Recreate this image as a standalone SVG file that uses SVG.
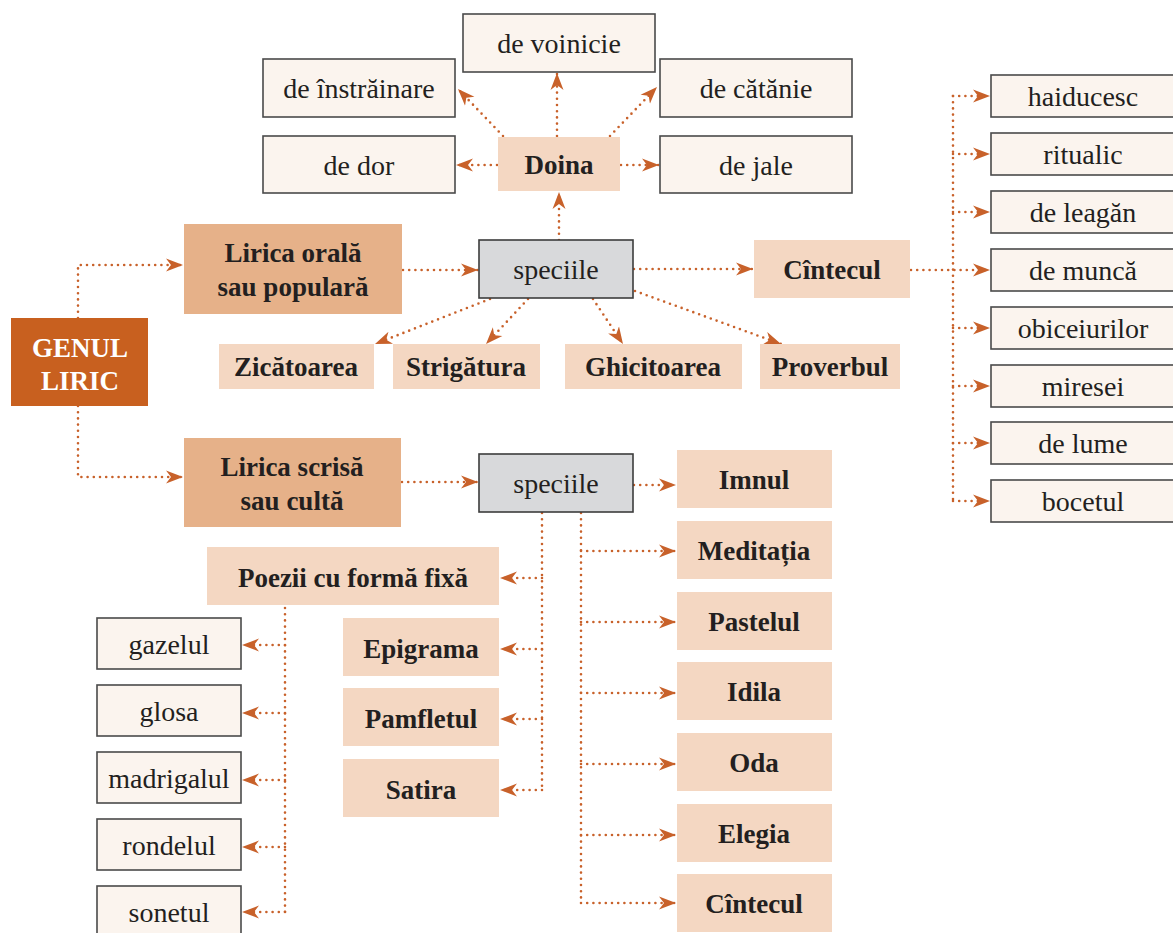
<svg xmlns="http://www.w3.org/2000/svg" width="1173" height="933" viewBox="0 0 1173 933">
<style>
text{font-family:"Liberation Serif","Times New Roman","DejaVu Serif",serif;fill:#231f20;text-anchor:middle}
.r{font-size:28px}
.b{font-size:27px;font-weight:bold}
.w{fill:#fbf4ee;stroke:#4a4a4a;stroke-width:1.6}
.g{fill:#d8d9db;stroke:#3c3c3c;stroke-width:1.6}
.p{fill:#f4d7c2}
.m{fill:#e6b189}
.k{fill:#c8601f}
.c path{fill:none;stroke:#c8612a;stroke-width:2.6;stroke-linecap:round;stroke-dasharray:0 6.2}
.c path.a{marker-end:url(#ah)}
</style>
<defs>
<marker id="ah" markerUnits="userSpaceOnUse" markerWidth="18" markerHeight="14" refX="17" refY="7" orient="auto">
<path d="M0,0.5 L17,7 L0,13.5 L5,7 Z" fill="#c8612a"/>
</marker>
</defs>
<rect width="1173" height="933" fill="#fff"/>
<g class="c" id="connectors">
<path class="a" d="M78,318 V265 H183"/>
<path class="a" d="M78,406 V477 H183"/>
<path class="a" d="M403,270 H478"/>
<path class="a" d="M402,482 H478"/>
<path class="a" d="M559,240 V192"/>
<path class="a" d="M497,165 H456"/>
<path class="a" d="M621,165 H659"/>
<path class="a" d="M557,136 V73"/>
<path class="a" d="M503,136 L458,89"/>
<path class="a" d="M610,136 L657,87"/>
<path class="a" d="M634,269 H753"/>
<path class="a" d="M490,299 L375,344"/>
<path class="a" d="M528,299 L486,344"/>
<path class="a" d="M593,299 L623,344"/>
<path class="a" d="M635,291 L781,344"/>
<path class="a" d="M911,270 H990"/>
<path d="M953,96 V501"/>
<path class="a" d="M953,96 H990"/>
<path class="a" d="M953,154 H990"/>
<path class="a" d="M953,212 H990"/>
<path class="a" d="M953,328 H990"/>
<path class="a" d="M953,386 H990"/>
<path class="a" d="M953,443 H990"/>
<path class="a" d="M953,501 H990"/>
<path class="a" d="M634,485 H676"/>
<path d="M581,513 V903"/>
<path class="a" d="M581,551 H676"/>
<path class="a" d="M581,622 H676"/>
<path class="a" d="M581,693 H676"/>
<path class="a" d="M581,764 H676"/>
<path class="a" d="M581,835 H676"/>
<path class="a" d="M581,903 H676"/>
<path d="M542,513 V790"/>
<path class="a" d="M542,578 H500"/>
<path class="a" d="M542,649 H500"/>
<path class="a" d="M542,719 H500"/>
<path class="a" d="M542,790 H500"/>
<path d="M285,608 V912"/>
<path class="a" d="M285,645 H242"/>
<path class="a" d="M285,713 H242"/>
<path class="a" d="M285,780 H242"/>
<path class="a" d="M285,847 H242"/>
<path class="a" d="M285,912 H242"/>
</g>
<g id="genul"><rect class="k" x="11" y="318" width="137" height="88"/><text class="b" x="80" y="357" style="fill:#fff">GENUL</text><text class="b" x="80" y="390" style="fill:#fff">LIRIC</text></g>
<g id="lirica-orala"><rect class="m" x="184" y="224" width="218" height="90"/><text class="b" x="293" y="262">Lirica orală</text><text class="b" x="293" y="296">sau populară</text></g>
<g id="lirica-scrisa"><rect class="m" x="184" y="438" width="217" height="89"/><text class="b" x="292" y="476">Lirica scrisă</text><text class="b" x="292" y="510">sau cultă</text></g>
<g id="speciile1"><rect class="g" x="479" y="240" width="154" height="58"/><text class="r" x="556" y="279">speciile</text></g>
<g id="speciile2"><rect class="g" x="479" y="454" width="154" height="58"/><text class="r" x="556" y="493">speciile</text></g>
<g id="doina"><rect class="p" x="498" y="137" width="122" height="54"/><text class="b" x="559" y="174">Doina</text></g>
<g id="de-voinicie"><rect class="w" x="463" y="14" width="192" height="58"/><text class="r" x="559" y="53">de voinicie</text></g>
<g id="de-instrainare"><rect class="w" x="263" y="59" width="192" height="58"/><text class="r" x="359" y="98">de înstrăinare</text></g>
<g id="de-catanie"><rect class="w" x="660" y="59" width="192" height="58"/><text class="r" x="756" y="98">de cătănie</text></g>
<g id="de-dor"><rect class="w" x="263" y="136" width="192" height="57"/><text class="r" x="359" y="175">de dor</text></g>
<g id="de-jale"><rect class="w" x="660" y="136" width="192" height="57"/><text class="r" x="756" y="175">de jale</text></g>
<g id="cintecul1"><rect class="p" x="754" y="240" width="156" height="58"/><text class="b" x="832" y="279">Cîntecul</text></g>
<g id="zicatoarea"><rect class="p" x="219" y="344" width="155" height="45"/><text class="b" x="296" y="376">Zicătoarea</text></g>
<g id="strigatura"><rect class="p" x="393" y="344" width="147" height="45"/><text class="b" x="466" y="376">Strigătura</text></g>
<g id="ghicitoarea"><rect class="p" x="565" y="344" width="177" height="45"/><text class="b" x="653" y="376">Ghicitoarea</text></g>
<g id="proverbul"><rect class="p" x="760" y="344" width="140" height="45"/><text class="b" x="830" y="376">Proverbul</text></g>
<g id="haiducesc"><rect class="w" x="991" y="75" width="185" height="42"/><text class="r" x="1083" y="106">haiducesc</text></g>
<g id="ritualic"><rect class="w" x="991" y="133" width="185" height="42"/><text class="r" x="1083" y="164">ritualic</text></g>
<g id="de-leagan"><rect class="w" x="991" y="191" width="185" height="42"/><text class="r" x="1083" y="222">de leagăn</text></g>
<g id="de-munca"><rect class="w" x="991" y="249" width="185" height="42"/><text class="r" x="1083" y="280">de muncă</text></g>
<g id="obiceiurilor"><rect class="w" x="991" y="307" width="185" height="42"/><text class="r" x="1083" y="338">obiceiurilor</text></g>
<g id="miresei"><rect class="w" x="991" y="365" width="185" height="42"/><text class="r" x="1083" y="396">miresei</text></g>
<g id="de-lume"><rect class="w" x="991" y="422" width="185" height="42"/><text class="r" x="1083" y="453">de lume</text></g>
<g id="bocetul"><rect class="w" x="991" y="480" width="185" height="42"/><text class="r" x="1083" y="511">bocetul</text></g>
<g id="imnul"><rect class="p" x="677" y="450" width="155" height="58"/><text class="b" x="754" y="489">Imnul</text></g>
<g id="meditatia"><rect class="p" x="677" y="521" width="155" height="58"/><text class="b" x="754" y="560">Meditația</text></g>
<g id="pastelul"><rect class="p" x="677" y="592" width="155" height="58"/><text class="b" x="754" y="631">Pastelul</text></g>
<g id="idila"><rect class="p" x="677" y="662" width="155" height="58"/><text class="b" x="754" y="701">Idila</text></g>
<g id="oda"><rect class="p" x="677" y="733" width="155" height="58"/><text class="b" x="754" y="772">Oda</text></g>
<g id="elegia"><rect class="p" x="677" y="804" width="155" height="58"/><text class="b" x="754" y="843">Elegia</text></g>
<g id="cintecul2"><rect class="p" x="677" y="874" width="155" height="58"/><text class="b" x="754" y="913">Cîntecul</text></g>
<g id="poezii"><rect class="p" x="207" y="547" width="292" height="58"/><text class="b" x="353" y="587">Poezii cu formă fixă</text></g>
<g id="epigrama"><rect class="p" x="343" y="618" width="156" height="58"/><text class="b" x="421" y="658">Epigrama</text></g>
<g id="pamfletul"><rect class="p" x="343" y="688" width="156" height="58"/><text class="b" x="421" y="728">Pamfletul</text></g>
<g id="satira"><rect class="p" x="343" y="759" width="156" height="58"/><text class="b" x="421" y="799">Satira</text></g>
<g id="gazelul"><rect class="w" x="97" y="618" width="144" height="51"/><text class="r" x="169" y="654">gazelul</text></g>
<g id="glosa"><rect class="w" x="97" y="685" width="144" height="51"/><text class="r" x="169" y="721">glosa</text></g>
<g id="madrigalul"><rect class="w" x="97" y="752" width="144" height="51"/><text class="r" x="169" y="788">madrigalul</text></g>
<g id="rondelul"><rect class="w" x="97" y="819" width="144" height="51"/><text class="r" x="169" y="855">rondelul</text></g>
<g id="sonetul"><rect class="w" x="97" y="886" width="144" height="51"/><text class="r" x="169" y="922">sonetul</text></g>
</svg>
